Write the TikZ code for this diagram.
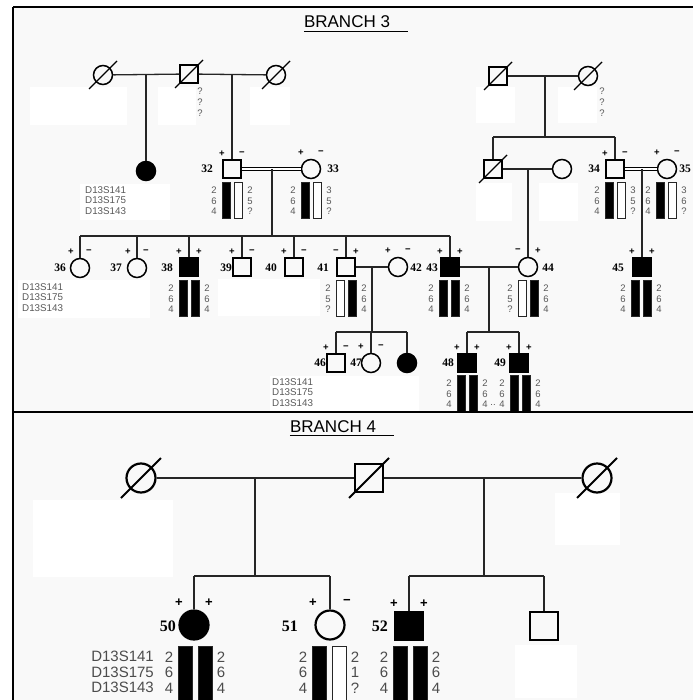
\documentclass[tikz,border=0pt]{standalone}
\usepackage{fontspec}
\setmainfont{Liberation Serif}
\setsansfont{Liberation Sans}
\usetikzlibrary{calc}

\tikzset{
  male/.style={draw,rectangle,minimum size=18pt,inner sep=0pt,line width=1.5pt},
  female/.style={draw,circle,minimum size=19pt,inner sep=0pt,line width=1.5pt},
  aff/.style={fill=black},
  dead/.style={line width=1.4pt},
  kin/.style={line width=1.3pt,draw=black!85},
  cousin/.style={double,double distance=1.8pt,line width=0.9pt},
  hapbar/.style={line width=0.7pt,draw=black!85},
  hapnum/.style={font=\sffamily\fontsize{9.5}{10.8}\selectfont,text=black!65,align=center,inner sep=0pt},
  marker/.style={font=\sffamily\fontsize{9.8}{10.8}\selectfont,text=black!65,align=left,inner sep=0pt},
  idnum/.style={font=\bfseries\fontsize{11.5}{12}\selectfont,inner sep=0pt},
  sign/.style={font=\sffamily\bfseries\fontsize{9.5}{10}\selectfont,inner sep=0pt},
  title/.style={font=\sffamily\fontsize{17}{20}\selectfont,inner sep=0pt},
  patch/.style={fill=white},
  frame/.style={line width=2.4pt}
}

% deceased: slash through symbol
\newcommand{\slashthru}[2]{\draw[dead] ($(#1.center)+(-#2,#2)$) -- ($(#1.center)+(#2,-#2)$);}
% signs above a symbol
\newcommand{\sgn}[5]{%
  \node[sign] (#1sa) at ($(#1.north)+(-#2,-#3)$) {#4};
  \node[sign] (#1sb) at ($(#1.north)+(#2,-#3)$) {#5};}
% haplotype: name, x, top, left numbers, fill1, fill2, right numbers
\def\bw{8}\def\bg{2}\def\bh{36}\def\nd{18}\def\nt{4.5}
\newcommand{\haplo}[7]{%
  \draw[hapbar,fill=#5] (#2-\bg-\bw,#3) rectangle (#2-\bg,#3+\bh);
  \draw[hapbar,fill=#6] (#2+\bg,#3) rectangle (#2+\bg+\bw,#3+\bh);
  \node[hapnum,anchor=north] (#1l) at (#2-\nd,#3+\nt) {#4};
  \node[hapnum,anchor=north] (#1r) at (#2+\nd,#3+\nt) {#7};}

\begin{document}
\begin{tikzpicture}[x=1pt,y=-1pt]
\useasboundingbox (0,0) rectangle (693,700);

% ---------------- branch 3 ----------------
\fill[gray!5] (14,8) rectangle (693,411);
\fill[patch] (30,87) rectangle (127,125);
\fill[patch] (158,87) rectangle (196,125);
\fill[patch] (250,87) rectangle (290,125);
\fill[patch] (476,87) rectangle (515,123);
\fill[patch] (558,87) rectangle (597,123);
\fill[patch] (80,184) rectangle (170,220);
\fill[patch] (476,183) rectangle (512,221);
\fill[patch] (539,183) rectangle (578,221);
\fill[patch] (18,280) rectangle (150,318);
\fill[patch] (218,279) rectangle (320,316);
\fill[patch] (270,376) rectangle (419,411);

\node[title,anchor=base] (t3) at (347,28) {BRANCH 3};
\draw[line width=0.9pt] (t3.base west) ++(0,3) -- ++(104,0);

% generation I, left
\node[female] (g1a) at (103,75) {};
\node[male] (g1b) at (189,74) {};
\node[female] (g1c) at (276,75) {};
\draw[kin] (g1a) -- (g1b) -- (g1c);
\slashthru{g1a}{14}
\slashthru{g1b}{14}
\slashthru{g1c}{14}
\node[hapnum] (q1) at (200,102) {?\\?\\?};
\coordinate (m1) at (146,75);
\coordinate (m2) at (232,75);
\node[female,aff] (d1) at (146,171) {};
\draw[kin] (m1) -- (d1);

% generation I, right
\node[male] (r1a) at (498,76) {};
\node[female] (r1b) at (588,76) {};
\draw[kin] (r1a) -- (r1b);
\slashthru{r1a}{14}
\slashthru{r1b}{14}
\node[hapnum] (q2) at (602,102) {?\\?\\?};
\coordinate (m3) at (545,76);
\coordinate (s1) at (545,137);
\draw[kin] (m3) -- (s1);

% generation II
\node[male] (p32) at (232,169) {};
\node[female] (p33) at (311,169) {};
\node[male] (r2a) at (493,169) {};
\node[female] (r2b) at (562,169) {};
\node[male] (p34) at (615,169) {};
\node[female] (p35) at (667,169) {};
\slashthru{r2a}{14}
\draw[kin] (m2) -- (p32);
\draw[cousin] (p32) -- (p33);
\draw[kin] (r2a) -- (r2b);
\draw[cousin] (p34) -- (p35);
\draw[kin] (r2a.north |- s1) -- (p34.north |- s1);
\draw[kin] (r2a.north |- s1) -- (r2a.north);
\draw[kin] (p34.north |- s1) -- (p34.north);
\coordinate (m4) at (272,169);
\coordinate (s2) at (272,236);
\coordinate (m5) at (528,169);
\coordinate (m6) at (642,169);
\draw[kin] (m4) -- (s2);

\node[idnum] (l32) at (207,169) {32};
\node[idnum] (l33) at (333,169) {33};
\node[idnum] (l34) at (594,169) {34};
\node[idnum] (l35) at (685,169) {35};
\sgn{p32}{10}{6}{+}{−}
\sgn{p33}{10}{6}{+}{−}
\sgn{p34}{10}{6}{+}{−}
\sgn{p35}{10}{6}{+}{−}
\node[marker,anchor=north west] (mk1) at (85,186) {D13S141\\D13S175\\D13S143};
\haplo{h32}{232}{182}{2\\6\\4}{black}{white}{2\\5\\?}
\haplo{h33}{311}{182}{2\\6\\4}{black}{white}{3\\5\\?}
\haplo{h34}{615}{182}{2\\6\\4}{black}{white}{3\\5\\?}
\haplo{h35}{666}{182}{2\\6\\4}{black}{white}{3\\6\\?}

% generation III
\node[female] (p36) at (80,268) {};
\node[female] (p37) at (137,268) {};
\node[male,aff] (p38) at (189,267) {};
\node[male] (p39) at (242,267) {};
\node[male] (p40) at (294,267) {};
\node[male] (p41) at (346,267) {};
\node[female] (p42) at (398,267) {};
\node[male,aff] (p43) at (450,267) {};
\node[female] (p44) at (528,267) {};
\node[male,aff] (p45) at (642,267) {};
\draw[kin] (p36.north |- s2) -- (p43.north |- s2);
\foreach \c in {36,...,41,43}
  \draw[kin] (p\c.north |- s2) -- (p\c.north);
\draw[kin] (m5) -- (p44.north);
\draw[kin] (m6) -- (p45.north);
\draw[kin] (p41) -- (p42);
\draw[kin] (p43) -- (p44);
\coordinate (m7) at (372,267);
\coordinate (s3) at (372,332);
\coordinate (m8) at (489,267);
\coordinate (s4) at (489,332);
\draw[kin] (m7) -- (s3);
\draw[kin] (m8) -- (s4);

\node[idnum] (l36) at (60,268) {36};
\node[idnum] (l37) at (116,268) {37};
\node[idnum] (l38) at (167,268) {38};
\node[idnum] (l39) at (226,268) {39};
\node[idnum] (l40) at (271,268) {40};
\node[idnum] (l41) at (323,268) {41};
\node[idnum] (l42) at (416,268) {42};
\node[idnum] (l43) at (432,268) {43};
\node[idnum] (l44) at (548,268) {44};
\node[idnum] (l45) at (618,268) {45};
\sgn{p36}{9}{6}{+}{−}
\sgn{p37}{9}{6}{+}{−}
\sgn{p38}{10}{6}{+}{+}
\sgn{p39}{10}{6}{+}{−}
\sgn{p40}{10}{6}{+}{−}
\sgn{p41}{10}{6}{−}{+}
\sgn{p42}{10}{6}{+}{−}
\sgn{p43}{10}{6}{+}{+}
\sgn{p44}{10}{6}{−}{+}
\sgn{p45}{10}{6}{+}{+}
\node[marker,anchor=north west] (mk2) at (22,283) {D13S141\\D13S175\\D13S143};
\haplo{h38}{189}{280}{2\\6\\4}{black}{black}{2\\6\\4}
\haplo{h41}{346}{280}{2\\5\\?}{white}{black}{2\\6\\4}
\haplo{h43}{449}{280}{2\\6\\4}{black}{black}{2\\6\\4}
\haplo{h44}{528}{280}{2\\5\\?}{white}{black}{2\\6\\4}
\haplo{h45}{641}{280}{2\\6\\4}{black}{black}{2\\6\\4}

% generation IV
\node[male] (p46) at (336,363) {};
\node[female] (p47) at (371,363) {};
\node[female,aff] (d2) at (407,363) {};
\node[male,aff] (p48) at (467,363) {};
\node[male,aff] (p49) at (519,363) {};
\draw[kin] (p46.north |- s3) -- (d2.north |- s3);
\foreach \c in {p46,p47,d2}
  \draw[kin] (\c.north |- s3) -- (\c.north);
\draw[kin] (p48.north |- s4) -- (p49.north |- s4);
\foreach \c in {p48,p49}
  \draw[kin] (\c.north |- s4) -- (\c.north);

\node[idnum] (l46) at (320,363) {46};
\node[idnum] (l47) at (356,363) {47};
\node[idnum] (l48) at (448,363) {48};
\node[idnum] (l49) at (500,363) {49};
\sgn{p46}{10}{6}{+}{−}
\sgn{p47}{10}{6}{+}{−}
\sgn{p48}{10}{6}{+}{+}
\sgn{p49}{10}{6}{+}{+}
\node[marker,anchor=north west] (mk3) at (272,378) {D13S141\\D13S175\\D13S143};
\haplo{h48}{467}{375}{2\\6\\4}{black}{black}{2\\6\\4}
\haplo{h49}{520}{375}{2\\6\\4}{black}{black}{2\\6\\4}
\node[hapnum] (dots) at (493,405) {..};

% ---------------- branch 4 ----------------
\fill[gray!5] (14,413) rectangle (693,700);
\fill[patch] (33,500) rectangle (173,577);
\fill[patch] (555,493) rectangle (620,545);
\fill[patch] (515,645) rectangle (577,698);

\node[title,anchor=base] (t4) at (333,432) {BRANCH 4};
\draw[line width=0.9pt] (t4.base west) ++(0,3) -- ++(104,0);

\begin{scope}[
  male/.append style={minimum size=28pt,line width=2.2pt},
  female/.append style={minimum size=29pt,line width=2.2pt},
  kin/.append style={line width=1.7pt},
  dead/.append style={line width=2pt},
  hapnum/.style={font=\sffamily\fontsize{15}{15.5}\selectfont,text=black!70,align=center,inner sep=0pt},
  marker/.style={font=\sffamily\fontsize{15}{15.5}\selectfont,text=black!70,align=left,inner sep=0pt},
  idnum/.style={font=\bfseries\fontsize{16}{18}\selectfont,inner sep=0pt},
  sign/.style={font=\sffamily\bfseries\fontsize{13}{14}\selectfont,inner sep=0pt}]
\def\bw{14}\def\bg{3}\def\bh{54}\def\nd{26}\def\nt{5.5}
\node[female] (b4a) at (141,478) {};
\node[male] (b4b) at (369,478) {};
\node[female] (b4c) at (597,478) {};
\draw[kin] (b4a) -- (b4b) -- (b4c);
\slashthru{b4a}{20}
\slashthru{b4b}{20}
\slashthru{b4c}{20}
\coordinate (m9) at (255,477);
\coordinate (s5) at (255,576);
\coordinate (m10) at (484,477);
\coordinate (s6) at (484,576);
\draw[kin] (m9) -- (s5);
\draw[kin] (m10) -- (s6);

\node[female,aff] (p50) at (194,625) {};
\node[female] (p51) at (330,625) {};
\node[male,aff] (p52) at (409,626) {};
\node[male] (b4d) at (544,626) {};
\draw[kin] (p50.north |- s5) -- (p51.north |- s5);
\foreach \c in {p50,p51}
  \draw[kin] (\c.north |- s5) -- (\c.north);
\draw[kin] (p52.north |- s6) -- (b4d.north |- s6);
\foreach \c in {p52,b4d}
  \draw[kin] (\c.north |- s6) -- (\c.north);

\node[idnum,anchor=east] (l50) at (176,626) {50};
\node[idnum,anchor=east] (l51) at (298,626) {51};
\node[idnum,anchor=east] (l52) at (388,626) {52};
\sgn{p50}{15}{7}{+}{+}
\sgn{p51}{17}{7}{+}{−}
\sgn{p52}{15}{7}{+}{+}
\node[marker,anchor=north east] (mk4) at (154,651) {D13S141\\D13S175\\D13S143};
\haplo{h50}{195}{646}{2\\6\\4}{black}{black}{2\\6\\4}
\haplo{h51}{329}{646}{2\\6\\4}{black}{white}{2\\1\\?}
\haplo{h52}{410}{646}{2\\6\\4}{black}{black}{2\\6\\4}
\end{scope}

% frame
\draw[frame] (13,7) -- (693,7);
\draw[frame] (13,7) -- (13,700);
\draw[frame] (13,412) -- (693,412);
\end{tikzpicture}
\end{document}
